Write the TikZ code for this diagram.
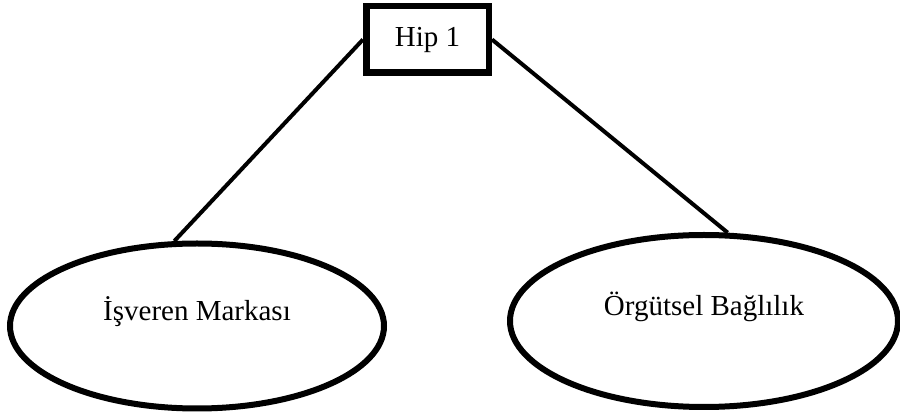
\documentclass[tikz,border=0pt]{standalone}
\usepackage{fontspec}
\setmainfont{Liberation Serif}
\usetikzlibrary{positioning,shapes.geometric}

\begin{document}
\begin{tikzpicture}[
  x=0.5pt, y=-0.5pt,
  hipbox/.style={draw=black, line width=3.25pt, rectangle,
                 minimum width=61.25pt, minimum height=33.25pt,
                 inner sep=0pt, font=\fontsize{14.5}{17}\selectfont},
  oval/.style={draw=black, line width=3pt, ellipse, inner sep=0pt,
               text height=12pt, text depth=17pt,
               font=\fontsize{14.5}{17}\selectfont},
  link/.style={line width=2pt, black},
]
\useasboundingbox (0,0) rectangle (900,416);

% Hypothesis box
\node[hipbox] (hip) at (427.5, 39.5) {Hip 1};

% Variables
\node[oval, minimum width=187pt, minimum height=82.5pt] (isv) at (197, 326)
  {İşveren Markası};
\node[oval, minimum width=194pt, minimum height=86pt] (org) at (704, 321)
  {Örgütsel Bağlılık};

% Connectors
\draw[link] (hip.west) -- (isv.105.8);
\draw[link] (hip.east) -- (org.75.8);

\end{tikzpicture}
\end{document}
